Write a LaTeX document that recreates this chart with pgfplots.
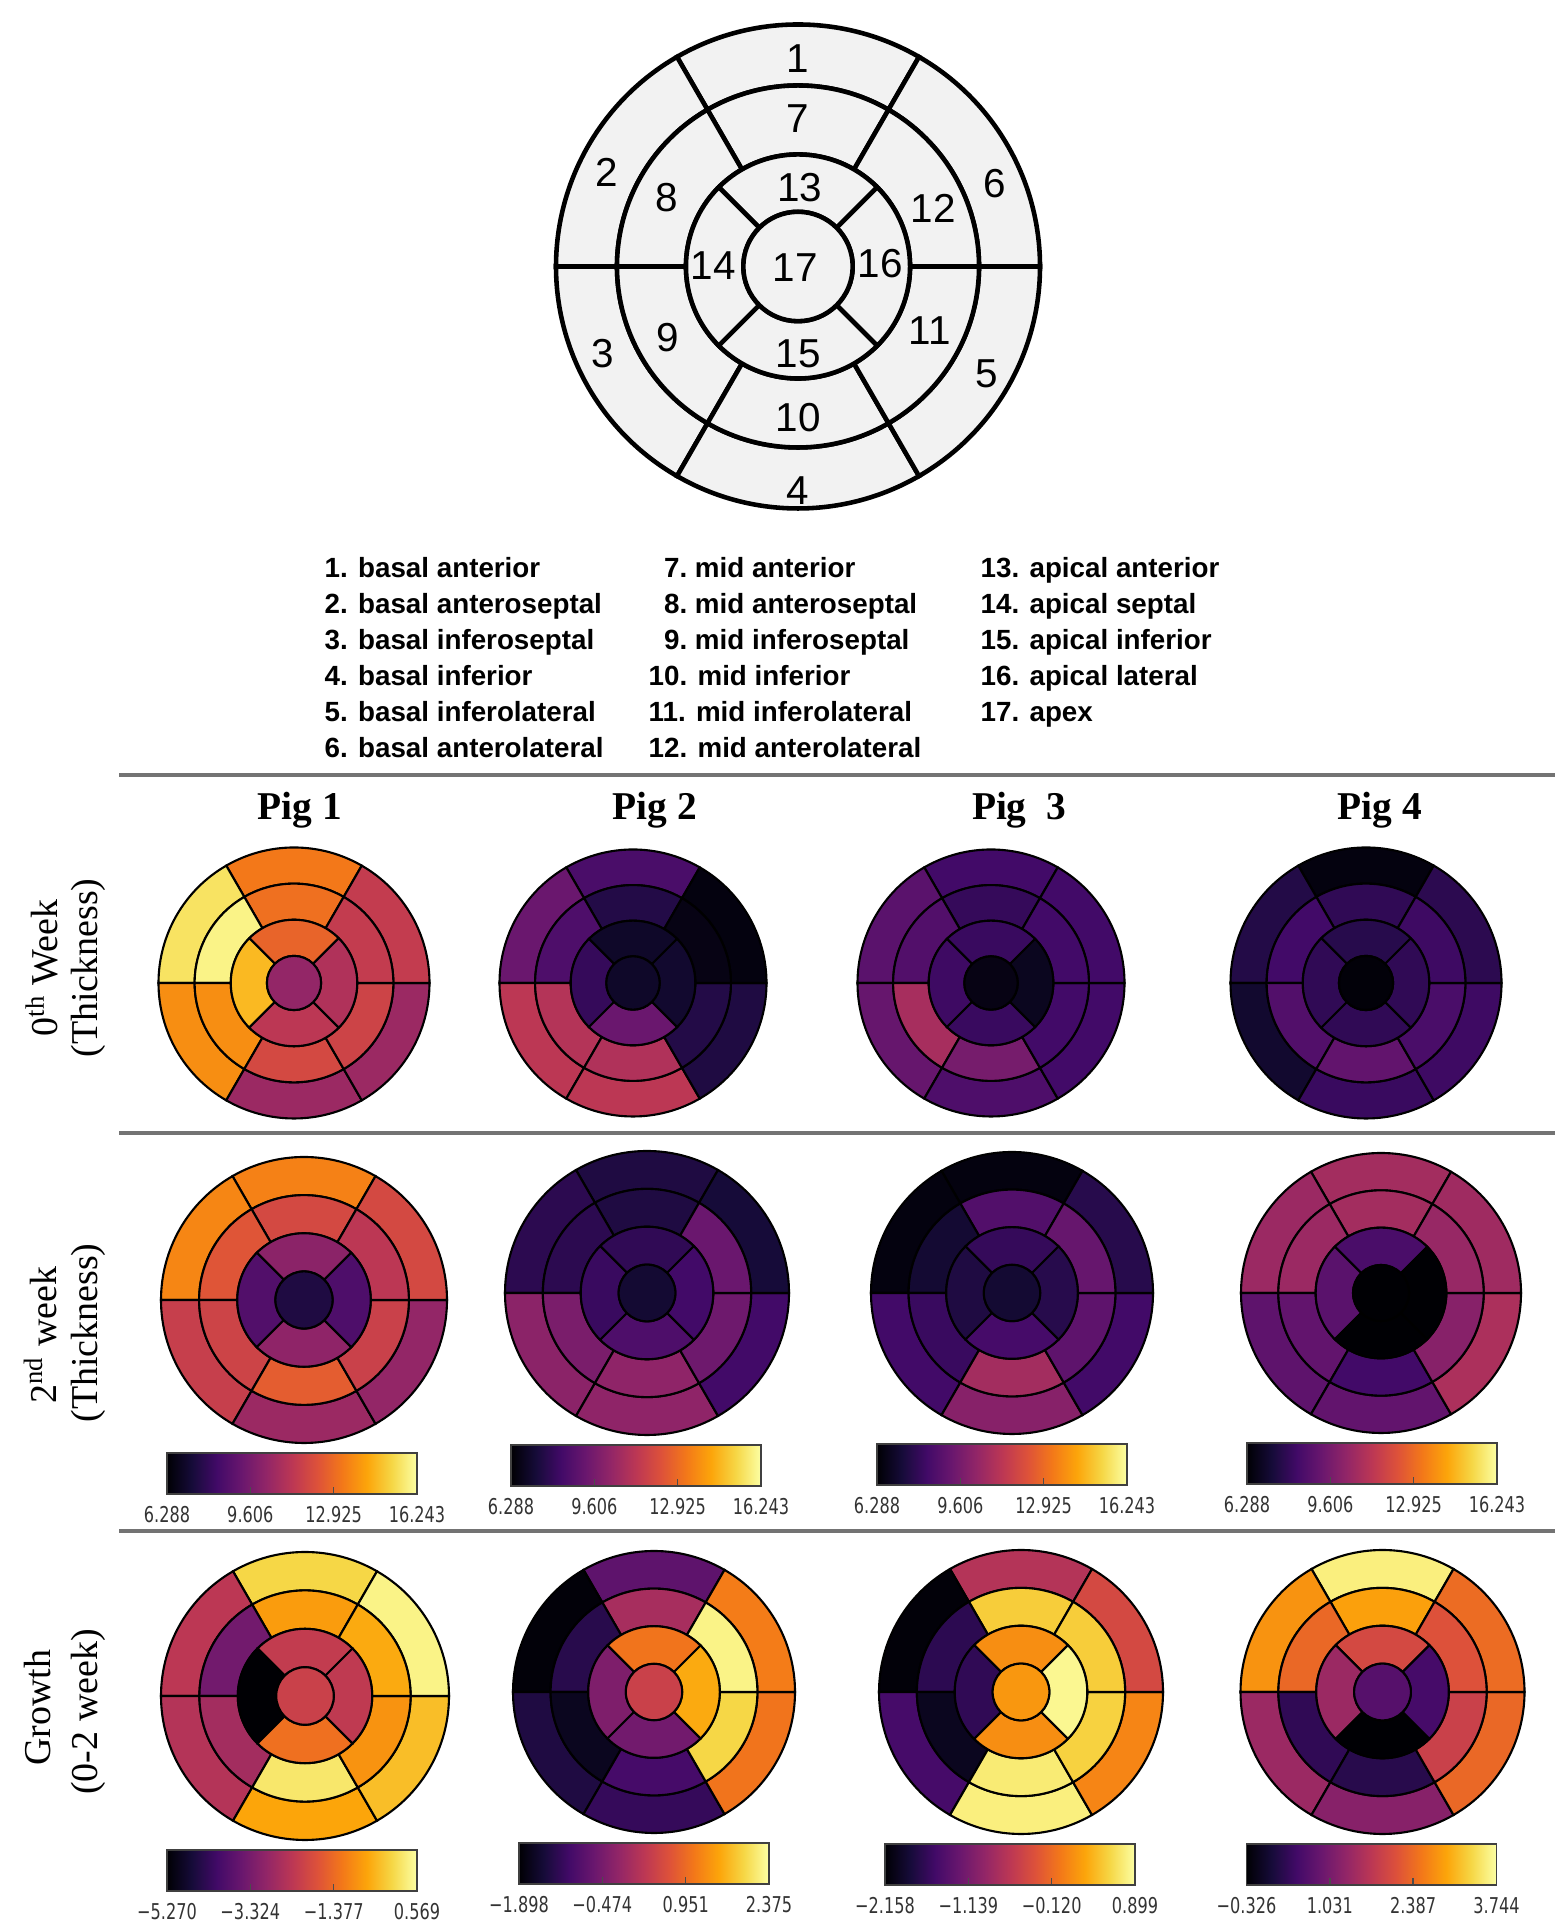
\documentclass[border=0pt]{standalone}
\usepackage{fontspec}
\setmainfont{Liberation Serif}
\newfontfamily\arialfont{Liberation Sans}
\newfontfamily\cbfont[FakeStretch=0.74]{DejaVu Sans}
\usepackage{pgfplots}
\usepackage{pgfplotstable}
\pgfplotsset{compat=1.18}

\newcommand\legfont{\arialfont\bfseries\fontsize{7.9}{9}\selectfont}
\newcommand\numfont{\arialfont\fontsize{11.5}{13}\selectfont}
\newcommand\pigfont{\bfseries\fontsize{11.2}{13}\selectfont}
\newcommand\rowfont{\fontsize{10.8}{12}\selectfont}
\newcommand\cbsize{\cbfont\fontsize{6.2}{7}\selectfont}

% matplotlib inferno
\pgfplotsset{colormap={inferno}{rgb255=(0,0,4) rgb255=(22,11,57) rgb255=(66,10,104)
  rgb255=(106,23,110) rgb255=(147,38,103) rgb255=(188,55,84) rgb255=(221,81,58)
  rgb255=(243,120,25) rgb255=(252,165,10) rgb255=(246,215,70) rgb255=(252,255,164)}}

% segment id, its label point (unit circle), value per bull's-eye
% A = 0th week, B = 2nd week, C = growth; 1..4 = pig
\pgfplotstableread{
seg x y A1 A2 A3 A4 B1 B2 B3 B4 C1 C2 C3 C4
1 0 0.8667 13.26 8.48 8.28 6.49 13.46 7.48 6.49 10.67 -0.015 -0.744 -0.691 3.581
2 -0.7506 0.4333 15.55 9.28 8.88 7.58 13.56 7.78 6.49 10.47 -2.350 -1.855 -2.127 2.767
3 -0.7506 -0.4333 13.75 11.27 9.18 7.09 11.57 10.07 8.28 8.98 -2.467 -1.385 -1.516 1.383
4 0 -0.8667 10.47 11.27 8.58 8.08 10.47 10.17 9.97 9.08 -0.599 -1.172 0.777 1.180
5 0.7506 -0.4333 10.47 7.48 8.28 8.18 10.27 8.28 8.28 10.87 -0.307 1.050 0.074 2.360
6 0.7506 0.4333 11.47 6.49 8.28 7.78 11.96 7.29 7.68 10.57 0.394 1.136 -0.416 2.401
7 0 0.6 13.06 7.58 7.98 7.88 11.96 7.48 8.68 10.67 -0.716 0.025 0.532 2.889
8 -0.5196 0.3 15.94 8.58 8.68 8.28 12.36 7.78 7.18 10.47 -3.402 -1.300 -1.699 2.360
9 -0.5196 -0.3 13.75 11.07 10.77 8.68 11.76 9.67 8.08 9.08 -2.701 -1.684 -2.005 0.325
10 0 -0.6 11.96 10.97 9.58 9.08 12.56 10.17 10.67 8.28 0.219 -1.001 0.746 0.244
11 0.5196 -0.3 11.76 7.58 8.28 8.48 11.67 9.38 8.98 9.97 -0.832 1.948 0.563 1.872
12 0.5196 0.3 11.47 6.59 8.28 8.18 11.27 9.28 9.18 10.37 -0.540 2.247 0.532 2.116
13 0 0.3333 12.76 6.99 8.08 7.68 10.07 7.88 7.98 8.48 -2.234 1.050 0.135 1.994
14 -0.3333 0 14.65 7.98 8.18 7.88 8.68 8.08 7.48 8.88 -5.270 -0.402 -1.669 1.383
15 0 -0.3333 11.27 9.28 8.08 7.88 10.17 8.58 8.38 6.29 -1.299 -0.531 0.135 -0.326
16 0.3333 0 10.97 7.09 6.79 7.88 8.58 8.28 7.68 6.29 -2.292 1.563 0.838 0.529
17 0 0 10.27 6.99 6.59 6.39 7.48 7.18 7.18 6.29 -2.117 0.409 0.196 0.692
}\segdata

% label points of the numbered reference diagram
\pgfplotstableread{
seg x y
1 0 0.860
2 -0.789 0.388
3 -0.806 -0.360
4 0 -0.926
5 0.781 -0.442
6 0.814 0.343
7 0 0.612
8 -0.541 0.285
9 -0.537 -0.293
10 0 -0.624
11 0.545 -0.264
12 0.558 0.240
13 0.008 0.326
14 -0.351 0.004
15 0 -0.360
16 0.339 0.012
17 -0.012 -0.004
}\diagdata

% one AHA segment, drawn around the bull's-eye centre
\newcommand\segpath{%
  \begingroup
  \pgfmathtruncatemacro\segk{\segid}%
  \pgftransformshift{\pgfpoint{-1*(\segx)*\R}{-1*(\segy)*\R}}%
  \ifnum\segk<17
    \ifnum\segk<7
      \edef\ri{\rC}\def\ro{1}\pgfmathsetmacro\angA{60*\segk}\def\segda{60}%
    \else\ifnum\segk<13
      \edef\ri{\rB}\edef\ro{\rC}\pgfmathsetmacro\angA{60*(\segk-6)}\def\segda{60}%
    \else
      \edef\ri{\rA}\edef\ro{\rB}\pgfmathsetmacro\angA{90*(\segk-13)+45}\def\segda{90}%
    \fi\fi
    \pgfmathsetmacro\angB{\angA+\segda}%
    \pgfmathsetlengthmacro\Ri{\ri*\R}%
    \pgfmathsetlengthmacro\Ro{\ro*\R}%
    \pgfpathmoveto{\pgfpointpolar{\angA}{\Ro}}%
    \pgfpatharc{\angA}{\angB}{\Ro}%
    \pgfpathlineto{\pgfpointpolar{\angB}{\Ri}}%
    \pgfpatharc{\angB}{\angA}{\Ri}%
    \pgfpathclose
  \else
    \pgfmathsetlengthmacro\Ri{\rA*\R}%
    \pgfpathcircle{\pgfpointorigin}{\Ri}%
  \fi
  \pgfusepathqfillstroke
  \endgroup}
\pgfdeclareplotmark{sector}{\segpath}
\pgfdeclareplotmark{dsector}{\segpath\pgfmathtruncatemacro\segn{\segid}\pgftext{\color{black}\numfont\segn}}

\pgfplotsset{
  bull/.style={scale only axis, hide axis, anchor=center,
    xmin=-1, xmax=1, ymin=-1, ymax=1, enlargelimits=false, clip=false,
    colormap name=inferno},
  segplot/.style={scatter, only marks, point meta=explicit,
    visualization depends on={\thisrow{seg} \as \segid},
    visualization depends on={\thisrow{x} \as \segx},
    visualization depends on={\thisrow{y} \as \segy}},
  cbar/.style 2 args={colorbar horizontal,
    colorbar style={at={(parent axis.south west)}, anchor=north west,
      xshift=0.06cm, yshift=0.20cm, scale only axis, width=2.5cm, height=0.41cm,
      xtick={#1}, xticklabels={#2}, ytick=\empty,
      xtick pos=left, xticklabel pos=left, xtick align=inside,
      major tick length=0.07cm, tick style={black!70, line width=0.4pt},
      axis line style={black!75, line width=0.5pt},
      xticklabel style={font=\cbsize, text=black!80}}},
}

\begin{document}
\begin{tikzpicture}
\path[use as bounding box] (0,0) rectangle (15.55,19.2);

% numbered 17-segment diagram
\def\R{2.42cm}\def\rA{0.226}\def\rB{0.463}\def\rC{0.748}
\begin{axis}[bull, at={(7.98cm,16.535cm)}, width=4.84cm, height=4.84cm]
\addplot[segplot, mark=dsector, mark options={line width=1.3pt},
  scatter/use mapped color={draw=black, fill=black!5}]
  table[x=x, y=y, meta=seg] {\diagdata};
\end{axis}

\begin{scope}[every node/.style={anchor=base west, font=\legfont, inner sep=0pt}]
\node at (3.24,13.42) {1. basal anterior};
\node at (3.24,13.06) {2. basal anteroseptal};
\node at (3.24,12.70) {3. basal inferoseptal};
\node at (3.24,12.34) {4. basal inferior};
\node at (3.24,11.98) {5. basal inferolateral};
\node at (3.24,11.62) {6. basal anterolateral};
\node at (6.48,13.42) {\makebox[1.39em][r]{7.}\ mid anterior};
\node at (6.48,13.06) {\makebox[1.39em][r]{8.}\ mid anteroseptal};
\node at (6.48,12.70) {\makebox[1.39em][r]{9.}\ mid inferoseptal};
\node at (6.48,12.34) {10. mid inferior};
\node at (6.48,11.98) {11. mid inferolateral};
\node at (6.48,11.62) {12. mid anterolateral};
\node at (9.80,13.42) {13. apical anterior};
\node at (9.80,13.06) {14. apical septal};
\node at (9.80,12.70) {15. apical inferior};
\node at (9.80,12.34) {16. apical lateral};
\node at (9.80,11.98) {17. apex};
\end{scope}

\draw[black!55, line width=0.9pt] (1.19,11.45) -- (15.55,11.45);
\draw[black!55, line width=0.9pt] (1.19,7.87) -- (15.55,7.87);
\draw[black!55, line width=0.9pt] (1.19,3.89) -- (15.55,3.89);

\node[anchor=base, font=\pigfont] at (3.00,11.00) {Pig 1};
\node[anchor=base, font=\pigfont] at (6.55,11.00) {Pig 2};
\node[anchor=base, font=\pigfont] at (10.19,11.00) {Pig\ \ 3};
\node[anchor=base, font=\pigfont] at (13.80,11.00) {Pig 4};

\node[rotate=90, font=\rowfont] at (0.42,9.52) {0\textsuperscript{th} Week};
\node[rotate=90, font=\rowfont] at (0.88,9.52) {(Thickness)};
\node[rotate=90, font=\rowfont] at (0.40,5.85) {2\textsuperscript{nd} week};
\node[rotate=90, font=\rowfont] at (0.88,5.87) {(Thickness)};
\node[rotate=90, font=\rowfont] at (0.38,2.12) {Growth};
\node[rotate=90, font=\rowfont] at (0.88,2.08) {(0-2 week)};

\def\rA{0.2}\def\rB{0.4667}\def\rC{0.7333}

% 0th week
\def\R{1.355cm}
\begin{axis}[bull, at={(2.94cm,9.37cm)}, width=2.71cm, height=2.71cm,
  point meta min=6.288, point meta max=16.243]
\addplot[segplot, mark=sector, mark options={line width=0.6pt},
  scatter/use mapped color={draw=black, fill=mapped color}]
  table[x=x, y=y, meta=A1] {\segdata};
\end{axis}
\def\R{1.335cm}
\begin{axis}[bull, at={(6.33cm,9.37cm)}, width=2.67cm, height=2.67cm,
  point meta min=6.288, point meta max=16.243]
\addplot[segplot, mark=sector, mark options={line width=0.6pt},
  scatter/use mapped color={draw=black, fill=mapped color}]
  table[x=x, y=y, meta=A2] {\segdata};
\end{axis}
\begin{axis}[bull, at={(9.91cm,9.37cm)}, width=2.67cm, height=2.67cm,
  point meta min=6.288, point meta max=16.243]
\addplot[segplot, mark=sector, mark options={line width=0.6pt},
  scatter/use mapped color={draw=black, fill=mapped color}]
  table[x=x, y=y, meta=A3] {\segdata};
\end{axis}
\def\R{1.355cm}
\begin{axis}[bull, at={(13.66cm,9.37cm)}, width=2.71cm, height=2.71cm,
  point meta min=6.288, point meta max=16.243]
\addplot[segplot, mark=sector, mark options={line width=0.6pt},
  scatter/use mapped color={draw=black, fill=mapped color}]
  table[x=x, y=y, meta=A4] {\segdata};
\end{axis}

% 2nd week
\def\R{1.43cm}
\begin{axis}[bull, at={(3.04cm,6.20cm)}, width=2.86cm, height=2.86cm,
  point meta min=6.288, point meta max=16.243,
  cbar={6.288,9.606,12.925,16.243}{6.288,9.606,12.925,16.243}]
\addplot[segplot, mark=sector, mark options={line width=0.6pt},
  scatter/use mapped color={draw=black, fill=mapped color}]
  table[x=x, y=y, meta=B1] {\segdata};
\end{axis}
\def\R{1.42cm}
\begin{axis}[bull, at={(6.47cm,6.27cm)}, width=2.84cm, height=2.84cm,
  point meta min=6.288, point meta max=16.243,
  cbar={6.288,9.606,12.925,16.243}{6.288,9.606,12.925,16.243}]
\addplot[segplot, mark=sector, mark options={line width=0.6pt},
  scatter/use mapped color={draw=black, fill=mapped color}]
  table[x=x, y=y, meta=B2] {\segdata};
\end{axis}
\def\R{1.41cm}
\begin{axis}[bull, at={(10.12cm,6.27cm)}, width=2.82cm, height=2.82cm,
  point meta min=6.288, point meta max=16.243,
  cbar={6.288,9.606,12.925,16.243}{6.288,9.606,12.925,16.243}]
\addplot[segplot, mark=sector, mark options={line width=0.6pt},
  scatter/use mapped color={draw=black, fill=mapped color}]
  table[x=x, y=y, meta=B3] {\segdata};
\end{axis}
\def\R{1.40cm}
\begin{axis}[bull, at={(13.81cm,6.27cm)}, width=2.80cm, height=2.80cm,
  point meta min=6.288, point meta max=16.243,
  cbar={6.288,9.606,12.925,16.243}{6.288,9.606,12.925,16.243}]
\addplot[segplot, mark=sector, mark options={line width=0.6pt},
  scatter/use mapped color={draw=black, fill=mapped color}]
  table[x=x, y=y, meta=B4] {\segdata};
\end{axis}

% growth
\def\R{1.44cm}
\begin{axis}[bull, at={(3.05cm,2.24cm)}, width=2.88cm, height=2.88cm,
  point meta min=-5.270, point meta max=0.569,
  cbar={-5.270,-3.324,-1.377,0.569}{−5.270,−3.324,−1.377,0.569}]
\addplot[segplot, mark=sector, mark options={line width=0.6pt},
  scatter/use mapped color={draw=black, fill=mapped color}]
  table[x=x, y=y, meta=C1] {\segdata};
\end{axis}
\def\R{1.41cm}
\begin{axis}[bull, at={(6.54cm,2.28cm)}, width=2.82cm, height=2.82cm,
  point meta min=-1.898, point meta max=2.375,
  cbar={-1.898,-0.474,0.951,2.375}{−1.898,−0.474,0.951,2.375}]
\addplot[segplot, mark=sector, mark options={line width=0.6pt},
  scatter/use mapped color={draw=black, fill=mapped color}]
  table[x=x, y=y, meta=C2] {\segdata};
\end{axis}
\def\R{1.42cm}
\begin{axis}[bull, at={(10.21cm,2.28cm)}, width=2.84cm, height=2.84cm,
  point meta min=-2.158, point meta max=0.899,
  cbar={-2.158,-1.139,-0.120,0.899}{−2.158,−1.139,−0.120,0.899}]
\addplot[segplot, mark=sector, mark options={line width=0.6pt},
  scatter/use mapped color={draw=black, fill=mapped color}]
  table[x=x, y=y, meta=C3] {\segdata};
\end{axis}
\begin{axis}[bull, at={(13.825cm,2.28cm)}, width=2.84cm, height=2.84cm,
  point meta min=-0.326, point meta max=3.744,
  cbar={-0.326,1.031,2.387,3.744}{−0.326,1.031,2.387,3.744}]
\addplot[segplot, mark=sector, mark options={line width=0.6pt},
  scatter/use mapped color={draw=black, fill=mapped color}]
  table[x=x, y=y, meta=C4] {\segdata};
\end{axis}
\end{tikzpicture}
\end{document}
